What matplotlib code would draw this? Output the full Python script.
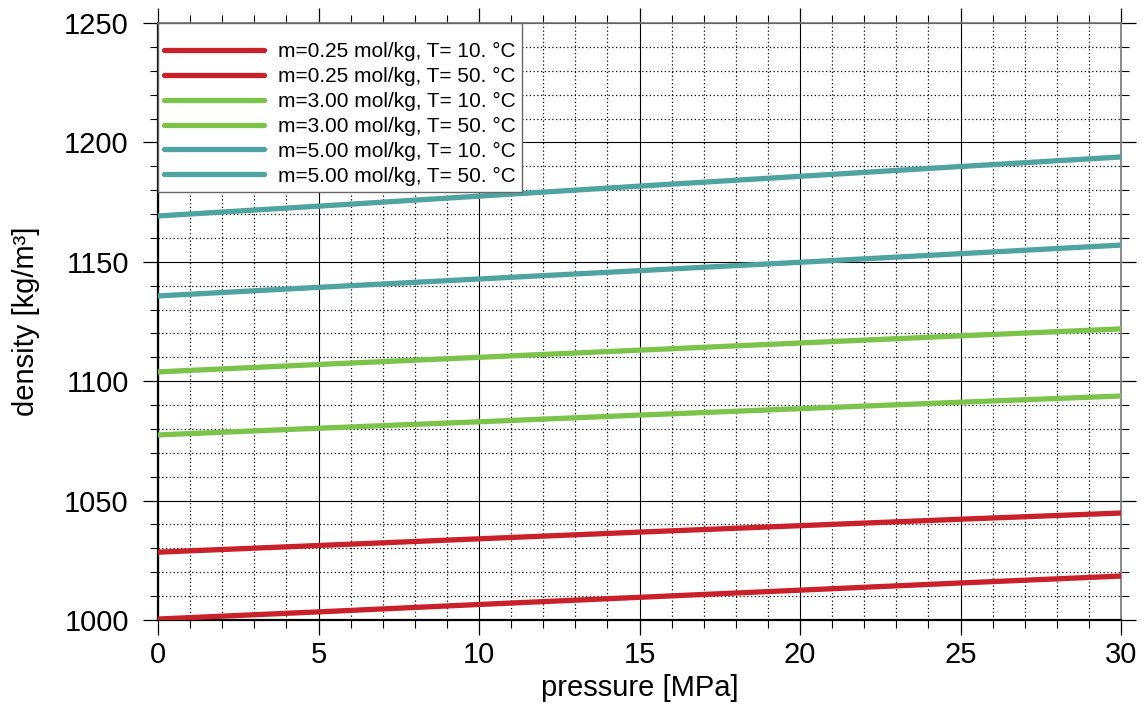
import matplotlib
matplotlib.use("Agg")
import matplotlib.pyplot as plt
from matplotlib.ticker import MultipleLocator

plt.rcParams['font.family'] = ['Liberation Sans', 'DejaVu Sans']

pressure = [0, 5, 10, 15, 20, 25, 30]
labels = [
    "m=0.25 mol/kg, T= 10. °C",
    "m=0.25 mol/kg, T= 50. °C",
    "m=3.00 mol/kg, T= 10. °C",
    "m=3.00 mol/kg, T= 50. °C",
    "m=5.00 mol/kg, T= 10. °C",
    "m=5.00 mol/kg, T= 50. °C",
]
dens_025_10 = [1028.4, 1031.2, 1034.0, 1036.8, 1039.5, 1042.2, 1044.8]
dens_025_50 = [1000.4, 1003.4, 1006.5, 1009.5, 1012.5, 1015.5, 1018.4]
dens_300_10 = [1103.9, 1107.0, 1110.0, 1113.0, 1116.0, 1119.0, 1121.9]
dens_300_50 = [1077.5, 1080.3, 1083.0, 1085.8, 1088.5, 1091.2, 1093.8]
dens_500_10 = [1169.2, 1173.3, 1177.5, 1181.7, 1185.8, 1189.9, 1193.9]
dens_500_50 = [1135.7, 1139.3, 1142.8, 1146.3, 1149.8, 1153.4, 1157.0]
series = [dens_025_10, dens_025_50, dens_300_10, dens_300_50, dens_500_10, dens_500_50]
colors = ['#c9202a', '#c9202a', '#7cc34c', '#7cc34c', '#4fa4a2', '#4fa4a2']

fig = plt.figure(figsize=(11.45, 7.07), dpi=100)
ax = fig.add_axes([158/1145, 1-620/707, (1121-158)/1145, (620-23)/707])

for y, c, lab in zip(series, colors, labels):
    ax.plot(pressure, y, color=c, lw=3.8, label=lab, solid_capstyle='round', zorder=3)

ax.set_xlim(0, 30)
ax.set_ylim(1000, 1250)
ax.xaxis.set_major_locator(MultipleLocator(5))
ax.xaxis.set_minor_locator(MultipleLocator(1))
ax.yaxis.set_major_locator(MultipleLocator(50))
ax.yaxis.set_minor_locator(MultipleLocator(10))
ax.grid(which='major', color='black', lw=0.8, ls='-')
ax.grid(which='minor', color='black', lw=0.9, ls=(0, (1, 2)))
ax.set_axisbelow(True)

ax.tick_params(which='both', direction='out', top=True, right=True, labelsize=21, colors='black')
ax.tick_params(axis='y', which='major', length=11, width=0.9, pad=10)
ax.tick_params(axis='x', which='major', length=11, width=0.9, pad=4)
ax.tick_params(which='minor', length=5.5, width=0.8)
for s in ['left', 'bottom']:
    ax.spines[s].set_linewidth(1.6)
    ax.spines[s].set_color('black')
for s in ['top', 'right']:
    ax.spines[s].set_linewidth(1.2)
    ax.spines[s].set_color('#777777')

ax.set_xlabel("pressure [MPa]", fontsize=21, labelpad=4)
ax.set_ylabel("density [kg/m³]", fontsize=21, labelpad=17)

leg = ax.legend(loc='upper left', bbox_to_anchor=(0, 1), borderaxespad=0.0,
                fontsize=15, handlelength=4.8, labelspacing=0.28, fancybox=False,
                framealpha=1, edgecolor='#666666', handletextpad=0.65, borderpad=0.3,
                title=" ", title_fontsize=6)
leg.get_frame().set_linewidth(1.0)

fig.savefig("out.png", dpi=100)
